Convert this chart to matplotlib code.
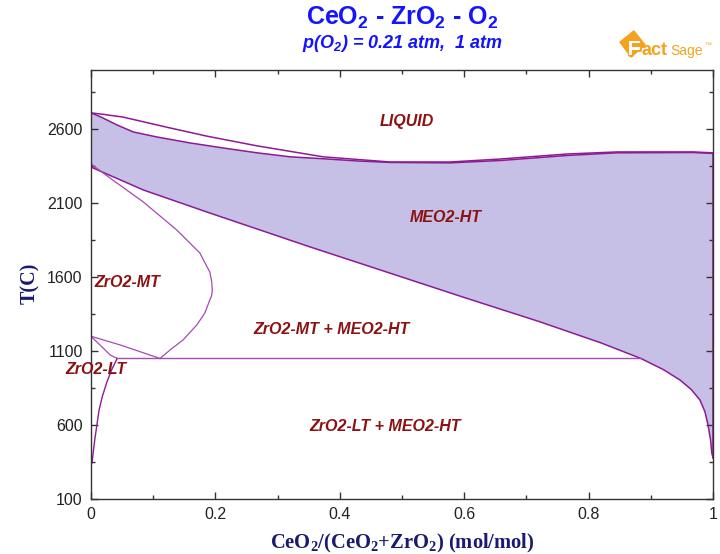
import numpy as np
import matplotlib
matplotlib.use("Agg")
import matplotlib.pyplot as plt
from matplotlib.ticker import MultipleLocator
from matplotlib.patches import Polygon
import matplotlib.patheffects as pe

plt.rcParams['font.family'] = ['Liberation Sans', 'DejaVu Sans']
plt.rcParams['mathtext.default'] = 'regular'

# liquidus and solidus of the MEO2-HT field
liq_x = [0, 0.016, 0.051, 0.123, 0.187, 0.267, 0.373, 0.481, 0.577, 0.658, 0.765, 0.846, 0.968, 1.0]
liq_T = [2710, 2702, 2682, 2612, 2552, 2487, 2413, 2378, 2378, 2398, 2432, 2446, 2446, 2440]
sol_x = [0, 0.016, 0.042, 0.068, 0.106, 0.159, 0.212, 0.267, 0.320, 0.373, 0.428, 0.481,
         0.577, 0.658, 0.765, 0.846, 0.968, 1.0]
sol_T = [2710, 2682, 2628, 2581, 2547, 2507, 2473, 2440, 2413, 2400, 2385, 2375,
         2372, 2388, 2422, 2440, 2442, 2436]

# lower boundary of MEO2-HT (solvus)
hs_x = [0, 0.003, 0.084, 0.191, 0.272, 0.352, 0.45, 0.6, 0.72, 0.82, 0.884, 0.92,
        0.947, 0.965, 0.979, 0.987, 0.992, 0.996, 0.998, 1.0]
hs_T = [2371, 2338, 2189, 2033, 1918, 1804, 1669, 1462, 1300, 1155, 1050, 975,
        904, 840, 769, 690, 600, 500, 411, 380]

# ZrO2-MT boundary
mt_x = [0, 0.002, 0.035, 0.084, 0.138, 0.175, 0.191, 0.194, 0.195, 0.194, 0.191, 0.183,
        0.170, 0.148, 0.127, 0.111]
mt_T = [2371, 2358, 2256, 2108, 1918, 1763, 1634, 1570, 1513, 1475, 1445, 1357,
        1276, 1175, 1107, 1050]

# MT/LT transition lines
ta_x = [0, 0.047, 0.111]
ta_T = [1200, 1141, 1050]
tb_x = [0, 0.031, 0.042]
tb_T = [1200, 1073, 1050]

# ZrO2-LT solvus
lt_x = [0.042, 0.037, 0.033, 0.025, 0.018, 0.013, 0.009, 0.006, 0.004, 0.0016]
lt_T = [1050, 1006, 972, 884, 790, 702, 587, 499, 431, 343]

# eutectoid
eu_x = [0.042, 0.884]
eu_T = [1050, 1050]

labels = ["LIQUID", "MEO2-HT", "ZrO2-MT", "ZrO2-MT + MEO2-HT", "ZrO2-LT", "ZrO2-LT + MEO2-HT"]
label_x = [0.508, 0.571, 0.006, 0.386, -0.041, 0.473]
label_T = [2649, 2000, 1560, 1249, 972, 593]
label_ha = ["center", "center", "left", "center", "left", "center"]

fill_c = '#c6bfe6'
line_c = '#8e1a96'
thin_c = '#a54ab3'
text_c = '#8b1212'
axis_c = '#1a1a70'

fig = plt.figure(figsize=(7.2, 5.54), dpi=100)
ax = fig.add_axes([0.1264, 0.0993, 0.8639, 0.7744])

# MEO2-HT single phase region
px = np.concatenate([sol_x, hs_x[::-1]])
py = np.concatenate([sol_T, hs_T[::-1]])
ax.fill(px, py, color=fill_c, lw=0)

ax.plot(liq_x, liq_T, color=line_c, lw=1.1)
ax.plot(sol_x, sol_T, color=line_c, lw=1.1)
ax.plot(hs_x, hs_T, color=line_c, lw=1.1)
ax.plot([1, 1], [hs_T[-1], sol_T[-1]], color=line_c, lw=1.1)
ax.plot(mt_x, mt_T, color=thin_c, lw=0.9)
ax.plot(ta_x, ta_T, color=thin_c, lw=0.9)
ax.plot(tb_x, tb_T, color=thin_c, lw=0.9)
ax.plot(lt_x, lt_T, color=line_c, lw=1.0)
ax.plot(eu_x, eu_T, color=thin_c, lw=1.0)

for s, lx, ly, ha in zip(labels, label_x, label_T, label_ha):
    ax.text(lx, ly, s, ha=ha, va='center', color=text_c, fontsize=11.5,
            fontweight='bold', fontstyle='italic', clip_on=False)

ax.set_xlim(0, 1)
ax.set_ylim(100, 3000)
ax.xaxis.set_major_locator(MultipleLocator(0.2))
ax.xaxis.set_minor_locator(MultipleLocator(0.1))
ax.yaxis.set_major_locator(MultipleLocator(500, offset=100))
ax.yaxis.set_minor_locator(MultipleLocator(250, offset=100))
ax.xaxis.set_major_formatter(plt.FuncFormatter(lambda v, p: f"{v:g}"))
ax.tick_params(which='both', direction='in', top=True, right=True, colors='#333333',
               labelcolor='#222222', labelsize=11.5, width=1.0)
ax.tick_params(which='major', length=5, pad=6)
ax.tick_params(which='minor', length=3)
for sp in ax.spines.values():
    sp.set_color('#333333')
    sp.set_linewidth(1.0)

ax.set_xlabel(r'CeO$_2$/(CeO$_2$+ZrO$_2$) (mol/mol)', family=['Liberation Serif'],
              fontweight='bold', fontsize=14.8, color=axis_c)
ax.xaxis.set_label_coords(0.5, -0.078)
ax.set_ylabel('T(C)', family=['Liberation Serif'], fontweight='bold', fontsize=14.5,
              color=axis_c)
ax.yaxis.set_label_coords(-0.081, 0.503)

fig.text(0.559, 0.967, r'CeO$_2$ - ZrO$_2$ - O$_2$', ha='center', va='center',
         fontsize=18, fontweight='bold', color='#1414ff')
fig.text(0.559, 0.921, r'p(O$_2$) = 0.21 atm,  1 atm', ha='center', va='center',
         fontsize=13, fontweight='bold', fontstyle='italic', color='#1414ff')

# logo
W, H = 720.0, 554.0
orange = '#f6a21e'
corners = [(619, 42), (634, 30), (646, 45), (631, 58)]
logo = Polygon([(cx / W, 1 - cy / H) for cx, cy in corners], closed=True,
               transform=fig.transFigure, color=orange, lw=0)
fig.patches.append(logo)
fig.text(628 / W, 1 - 55 / H, 'F', ha='left', va='baseline', fontsize=15,
         fontweight='bold', color='white',
         path_effects=[pe.withStroke(linewidth=2, foreground=orange)])
fig.text(642 / W, 1 - 55 / H, 'act', ha='left', va='baseline', fontsize=13,
         fontweight='bold', color=orange)
fig.text(670 / W, 1 - 55 / H, 'Sage', ha='left', va='baseline', fontsize=10,
         color=orange)
fig.text(704 / W, 1 - 47 / H, '\u2122', ha='left', va='baseline', fontsize=5,
         color=orange)

fig.savefig('out.png', dpi=100)
